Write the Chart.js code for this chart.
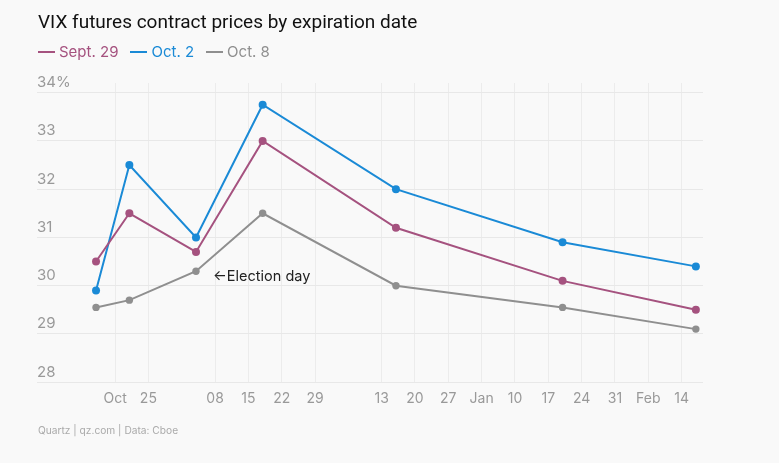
<!DOCTYPE html>
<html>
<head>
<meta charset="utf-8">
<script src="https://cdn.jsdelivr.net/npm/chart.js@4/dist/chart.umd.min.js"></script>
<style>
  html, body { margin: 0; padding: 0; background: #f9f9f9; }
  #wrap { position: relative; width: 779px; height: 463px; }
  #title { position: absolute; left: 38px; top: 10px; font: 400 19px/24px "Roboto", "Inter", sans-serif; color: #111; white-space: nowrap; }
  #legend { position: absolute; left: 38px; top: 42px; height: 20px; display: flex; align-items: center; font: 15px/20px "Inter", sans-serif; white-space: nowrap; }
  .item { display: flex; align-items: center; margin-right: 12px; }
  .swatch { width: 17px; height: 2px; margin-right: 4px; }
  #footer { position: absolute; left: 38px; top: 424px; font: 10.2px "Inter", sans-serif; color: #aaaaaa; white-space: nowrap; }
</style>
</head>
<body>
<div id="wrap">
  <canvas id="c"></canvas>
  <div id="title">VIX futures contract prices by expiration date</div>
  <div id="legend"></div>
  <div id="footer">Quartz | qz.com | Data: Cboe</div>
</div>
<script>
// Days counted from Oct. 14, 2020
const expirationDays = [0, 7, 21, 35, 63, 98, 126];
const sept29 = [30.5, 31.5, 30.7, 33.0, 31.2, 30.1, 29.5];
const oct2   = [29.9, 32.5, 31.0, 33.75, 32.0, 30.9, 30.4];
const oct8   = [29.55, 29.7, 30.3, 31.5, 30.0, 29.55, 29.1];
const seriesNames = ["Sept. 29", "Oct. 2", "Oct. 8"];
const tickDays   = [4, 11, 25, 32, 39, 46, 60, 67, 74, 81, 88, 95, 102, 109, 116, 123];
const tickLabels = ["Oct", "25", "08", "15", "22", "29", "13", "20", "27", "Jan", "10", "17", "24", "31", "Feb", "14"];
const yTicks = [28, 29, 30, 31, 32, 33, 34];
const annotationIndex = 2;
const annotationText = "←Election day";

const FONT = '"Inter", sans-serif';
const colors = ["#a5527f", "#1a8ad6", "#8f8f8f"];

function toPoints(vals) { return vals.map((v, i) => ({ x: expirationDays[i], y: v })); }

const annotationPlugin = {
  id: 'electionNote',
  afterDatasetsDraw(chart) {
    const meta = chart.getDatasetMeta(2);
    const pt = meta.data[annotationIndex];
    if (!pt) return;
    const ctx = chart.ctx;
    ctx.save();
    ctx.font = '14.5px ' + FONT;
    ctx.fillStyle = '#222';
    ctx.textAlign = 'left';
    ctx.textBaseline = 'middle';
    ctx.fillText(annotationText, pt.x + 17, pt.y + 5);
    ctx.restore();
  }
};

const htmlLegend = {
  id: 'htmlLegend',
  afterUpdate(chart) {
    const box = document.getElementById('legend');
    box.innerHTML = '';
    chart.data.datasets.forEach(ds => {
      const item = document.createElement('div');
      item.className = 'item';
      const sw = document.createElement('span');
      sw.className = 'swatch';
      sw.style.background = ds.borderColor;
      const tx = document.createElement('span');
      tx.textContent = ds.label;
      tx.style.color = ds.borderColor;
      item.appendChild(sw); item.appendChild(tx);
      box.appendChild(item);
    });
  }
};

const datasets = [sept29, oct2, oct8].map((vals, i) => ({
  label: seriesNames[i],
  data: toPoints(vals),
  borderColor: colors[i],
  backgroundColor: colors[i],
  borderWidth: 2,
  pointRadius: i === 2 ? 3.7 : 4,
  pointHoverRadius: 4,
  pointBorderWidth: 0,
  tension: 0
}));

new Chart(document.getElementById('c'), {
  type: 'line',
  data: { datasets },
  plugins: [annotationPlugin, htmlLegend],
  options: {
    responsive: true,
    maintainAspectRatio: false,
    animation: false,
    layout: { padding: { left: 37, right: 76, top: 83, bottom: 48 } },
    plugins: {
      tooltip: { enabled: false },
      title: { display: false },
      legend: { display: false }
    },
    scales: {
      x: {
        type: 'linear',
        min: -12.4,
        max: 127.5,
        afterBuildTicks(scale) { scale.ticks = tickDays.map(v => ({ value: v })); },
        ticks: {
          autoSkip: false,
          maxRotation: 0,
          padding: 8,
          color: '#999',
          font: { family: FONT, size: 14 },
          callback(value) { const k = tickDays.indexOf(value); return k >= 0 ? tickLabels[k] : ''; }
        },
        grid: { color: '#ececec', drawTicks: false },
        border: { display: false }
      },
      y: {
        type: 'linear',
        min: 28,
        max: 34.2,
        afterBuildTicks(scale) { scale.ticks = yTicks.map(v => ({ value: v })); },
        ticks: {
          mirror: true,
          padding: 0,
          labelOffset: -10,
          color: '#999',
          font: { family: FONT, size: 15 },
          callback(value) { return value === 34 ? '34%' : String(value); }
        },
        grid: { color: '#e8e8e8', drawTicks: false },
        border: { display: false }
      }
    }
  }
});
</script>
</body>
</html>
